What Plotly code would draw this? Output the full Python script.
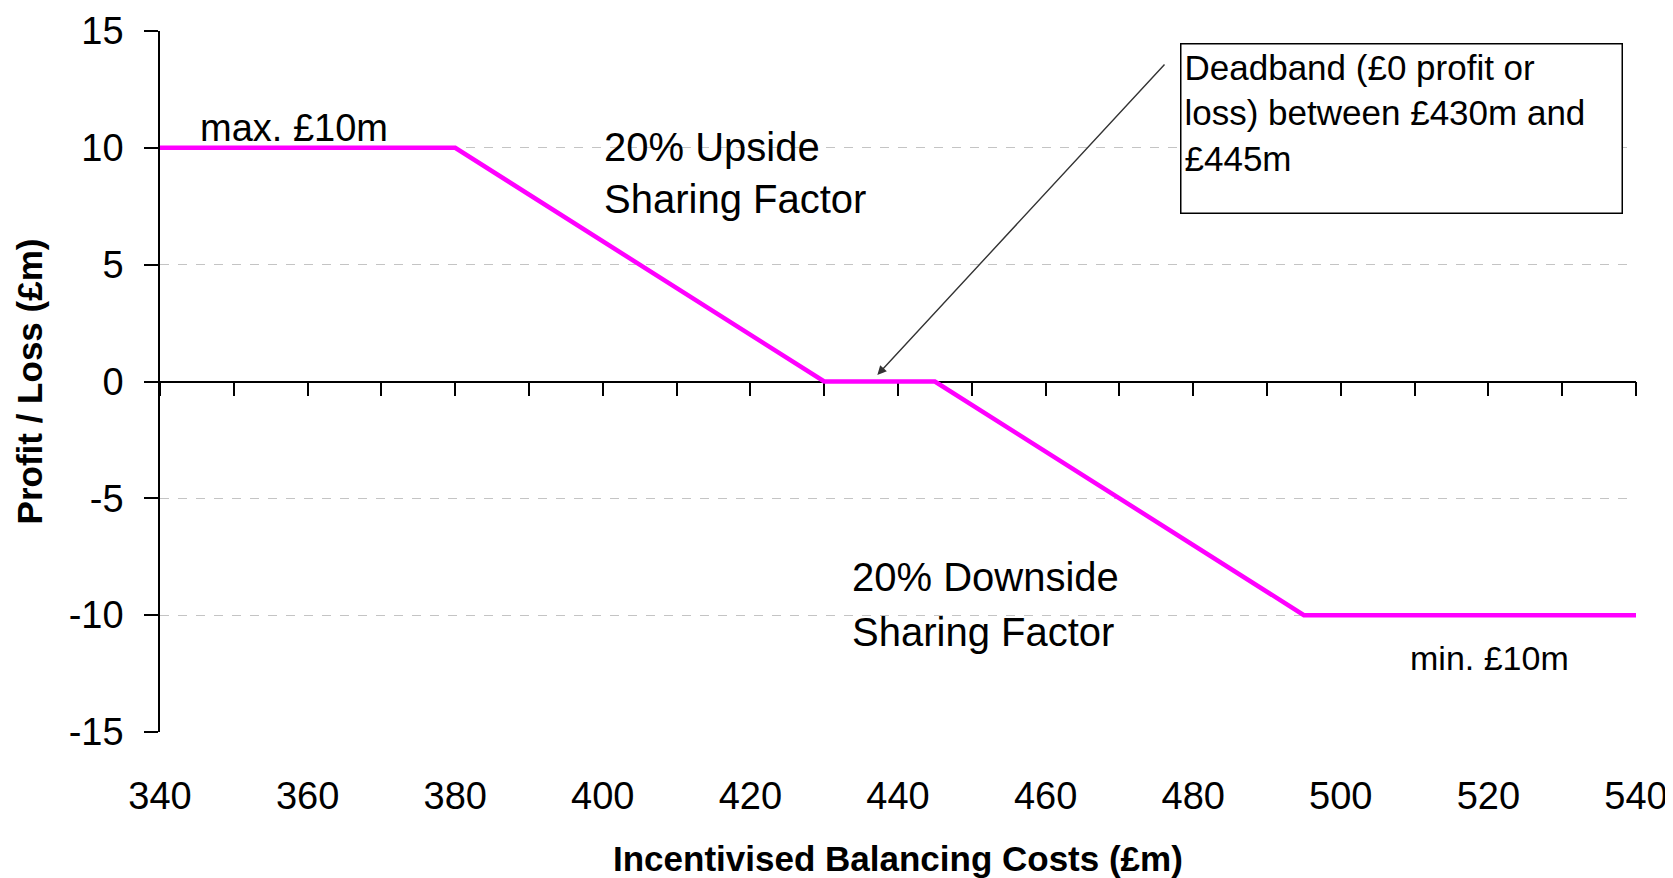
import plotly.graph_objects as go

# ---- data ----
costs = [340, 380, 430, 445, 495, 540]          # Incentivised Balancing Costs (£m)
profit_loss = [10, 10, 0, 0, -10, -10]           # Profit / Loss (£m)

x_tick_vals = [340, 360, 380, 400, 420, 440, 460, 480, 500, 520, 540]
x_tick_labels = ["340", "360", "380", "400", "420", "440", "460", "480", "500", "520", "540"]
x_minor_ticks = [340, 350, 360, 370, 380, 390, 400, 410, 420, 430, 440, 450,
                 460, 470, 480, 490, 500, 510, 520, 530, 540]
y_tick_vals = [-15, -10, -5, 0, 5, 10, 15]
y_tick_labels = ["-15", "-10", "-5", "0", "5", "10", "15"]

x_title = "Incentivised Balancing Costs (£m)"
y_title = "Profit / Loss (£m)"
deadband_text = "Deadband (£0 profit or<br>loss) between £430m and<br>£445m"

FONT = "Arial, Liberation Sans, sans-serif"

fig = go.Figure()

fig.add_trace(go.Scatter(
    x=costs, y=profit_loss, mode="lines",
    line=dict(color="#FF00FF", width=4.5),
    xaxis="x", yaxis="y", showlegend=False, hoverinfo="x+y",
))
# transparent copy so the zero-line axis (x2) is drawn
fig.add_trace(go.Scatter(
    x=costs, y=profit_loss, mode="lines",
    line=dict(color="rgba(0,0,0,0)", width=0),
    xaxis="x2", yaxis="y", showlegend=False, hoverinfo="skip",
))

fig.update_layout(
    width=1665, height=870,
    margin=dict(l=152, r=37, t=23, b=146),
    paper_bgcolor="white", plot_bgcolor="white",
    font=dict(family=FONT, color="black"),
    xaxis=dict(
        range=[340, 540], tickmode="array", tickvals=x_tick_vals, ticktext=x_tick_labels,
        showline=False, ticks="", showgrid=False, zeroline=False,
        tickfont=dict(size=38, family=FONT, color="black"),
        ticklabelstandoff=38, ticklabeloverflow="allow",
        automargin=False,
    ),
    xaxis2=dict(
        range=[340, 540], overlaying="x", anchor="free", position=0.5, side="bottom",
        tickmode="array", tickvals=x_minor_ticks, showticklabels=False,
        ticks="outside", ticklen=14, tickwidth=1.5, tickcolor="black",
        showline=True, linecolor="black", linewidth=1.5,
        showgrid=False, zeroline=False, layer="below traces",
    ),
    yaxis=dict(
        range=[-15, 15], tickmode="array", tickvals=y_tick_vals, ticktext=y_tick_labels,
        showline=True, linecolor="black", linewidth=1.5,
        ticks="outside", ticklen=14, tickwidth=1.5, tickcolor="black",
        showgrid=True, gridcolor="#c4c4c4", gridwidth=1, griddash="dash",
        zeroline=False,
        tickfont=dict(size=38, family=FONT, color="black"),
        ticklabelstandoff=13,
        title=dict(text="<b>" + y_title + "</b>", font=dict(size=35, family=FONT, color="black")),
        automargin=False,
    ),
)

# x-axis title placed below the tick labels
fig.add_annotation(
    xref="paper", yref="paper", x=0.5, y=-0.18, xanchor="center", yanchor="middle",
    text="<b>" + x_title + "</b>", showarrow=False,
    font=dict(size=35, family=FONT, color="black"),
)

ann_font = dict(family=FONT, size=40, color="black")
annotations = [
    dict(x=345.15, y=10.85, text="max. £10m", font=dict(family=FONT, size=38, color="black")),
    dict(x=399.9, y=10.04, text="20% Upside", font=ann_font),
    dict(x=399.9, y=7.81, text="Sharing Factor", font=ann_font),
    dict(x=433.5, y=-8.36, text="20% Downside", font=ann_font),
    dict(x=433.5, y=-10.74, text="Sharing Factor", font=ann_font),
    dict(x=509.1, y=-11.85, text="min. £10m", font=dict(family=FONT, size=34, color="black")),
]
for a in annotations:
    fig.add_annotation(xref="x", yref="y", xanchor="left", yanchor="middle",
                       showarrow=False, **a)

fig.add_annotation(
    xref="x", yref="y", x=478.2, y=14.49, xanchor="left", yanchor="top",
    text=deadband_text, showarrow=False, align="left", valign="top",
    width=434, height=162, borderpad=3,
    bordercolor="black", borderwidth=1.5, bgcolor="white",
    font=dict(family=FONT, size=35, color="black"),
)
# arrow pointing to the deadband
fig.add_annotation(
    xref="x", yref="y", axref="x", ayref="y",
    x=437.2, y=0.28, ax=476.3, ay=13.63, text="",
    showarrow=True, arrowhead=2, arrowsize=1.3, arrowwidth=1.4, arrowcolor="#333333",
)

fig.write_html("out.html")
